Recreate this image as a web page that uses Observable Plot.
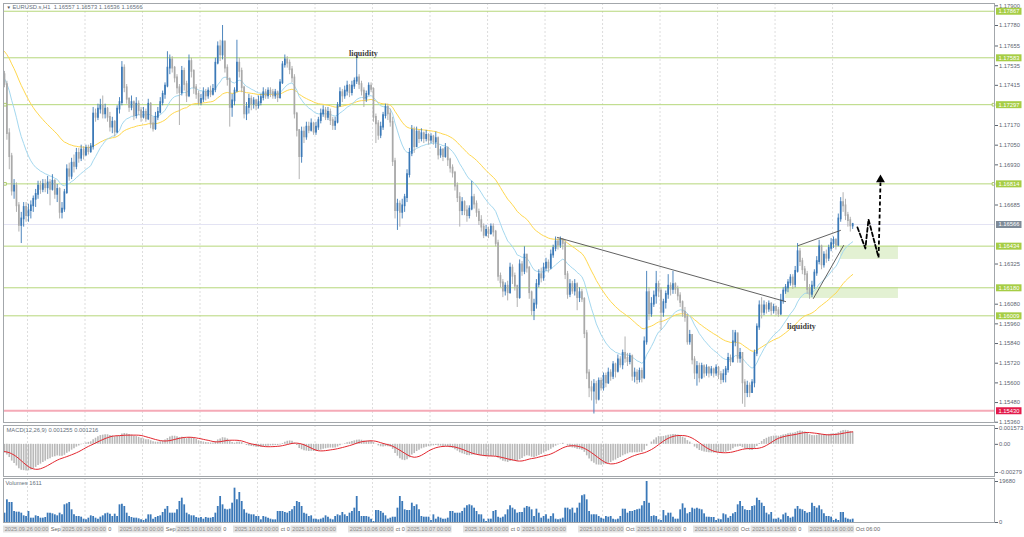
<!DOCTYPE html>
<html>
<head>
<meta charset="utf-8">
<script src="https://cdn.jsdelivr.net/npm/d3@7"></script>
<script src="https://cdn.jsdelivr.net/npm/@observablehq/plot@0.6"></script>
<style>
  body { margin: 0; background: #fff; }
  #wrap { position: relative; width: 1024px; height: 537px; overflow: hidden; background: #fff; }
  #wrap > div { position: absolute; left: 0; }
</style>
</head>
<body>
<div id="wrap">
  <div id="main" style="top:0px"></div>
  <div id="macd" style="top:423px"></div>
  <div id="vol" style="top:477px"></div>
  <div id="time" style="top:522px"></div>
</div>
<script>
// ---------------- DATA (prices in pips above 1.10000, 1 pip = 0.0001) ----------------
const firstOpen = 748;
const closes = [
742,712,698,677,680,668,656,660,667,662,
665,668,672,675,680,678,681,679,682,678,
683,675,678,664,666,676,690,686,694,692,
700,697,702,699,703,701,704,724,722,727,
729,724,727,722,716,719,713,727,731,752,
740,733,728,731,723,730,726,722,725,721,
730,718,715,722,725,731,736,741,752,757,
752,746,740,737,750,742,735,756,750,740,
736,731,733,737,735,738,736,739,755,765,
760,768,752,745,728,732,738,755,750,740,
724,728,733,730,732,729,731,734,737,735,
738,737,735,737,734,743,754,757,755,751,
746,724,714,698,713,710,716,714,718,713,
716,720,724,726,722,725,720,717,719,729,
737,735,738,741,737,741,744,746,742,738,
733,736,741,739,722,718,711,716,723,728,
724,719,695,665,669,664,668,673,687,700,
714,704,713,709,712,709,711,708,710,707,
709,699,702,698,703,696,691,688,680,673,
665,670,665,662,666,673,669,664,659,655,
650,653,651,655,652,645,625,621,616,619,
615,630,625,619,612,632,628,638,630,615,
604,608,620,626,624,630,633,630,638,642,
646,644,647,645,626,614,620,616,620,612,
615,611,590,566,557,555,559,550,561,557,
564,560,566,564,571,567,574,571,578,575,
573,576,564,566,562,567,563,585,615,602,
608,613,620,616,603,609,614,619,617,620,
617,613,609,603,600,585,589,574,566,570,
563,570,566,569,566,568,566,569,565,562,
565,568,575,573,585,590,575,578,560,554,
558,554,560,578,594,607,603,607,605,608,
604,606,604,602,610,616,618,621,624,620,
628,640,634,629,626,617,614,619,627,634,
643,632,638,636,642,645,647,644,660,670,
668,662,659,655.7,656.6
];
const highs = [
750,744,715,700,684,682,670,664,670,670,
669,671,674,678,683,683,684,684,686,684,
687,684,681,679,670,678,693,694,697,699,
703,703,705,704,705,705,706,728,727,730,
733,735,730,728,725,722,720,729,734,756,
754,742,734,735,732,734,732,728,728,727,
733,731,722,725,728,734,738,743,762,760,
759,753,748,742,753,752,744,760,758,751,
742,738,736,740,739,740,741,742,758,768,
769,778,768,754,746,736,740,769,758,752,
741,731,736,735,734,733,735,736,740,739,
740,740,739,739,738,745,756,760,759,757,
753,748,725,714,716,716,719,719,721,719,
719,722,727,729,728,728,727,722,722,731,
740,739,741,744,742,744,746,760,748,744,
740,738,743,743,740,724,720,719,725,730,
730,727,722,697,672,671,672,675,690,703,
717,716,716,714,715,713,714,712,712,711,
713,710,704,703,706,704,697,693,689,682,
676,673,671,668,668,683,675,671,666,662,
657,656,655,657,657,653,647,627,623,621,
622,633,632,627,619,635,634,643,637,631,
616,611,623,629,630,633,636,635,641,644,
649,648,649,648,647,628,623,622,623,621,
618,617,612,592,568,561,562,561,563,563,
566,566,569,568,573,572,577,576,580,588,
578,578,577,569,568,569,569,588,628,618,
612,616,628,622,618,611,616,626,621,628,
621,619,615,610,606,602,592,588,576,573,
572,572,571,571,570,570,569,571,570,567,
568,570,578,577,592,592,590,581,577,562,
561,560,562,580,596,610,612,610,609,610,
609,608,607,606,614,618,620,623,626,626,
631,645,642,636,631,628,620,622,629,637,
647,644,640,641,644,648,649,648,663,673,
676,672,664,661,657.3
];
const lows = [
740,708,690,674,672,664,652,645,655,658,
658,660,664,667,672,675,676,676,675,668,
677,672,670,660,660,664,675,683,684,688,
690,694,695,696,698,699,700,702,719,720,
724,721,721,719,713,712,710,712,724,729,
737,730,725,726,720,721,723,719,721,719,
720,715,713,714,720,724,729,733,740,748,
749,743,736,717,735,738,731,734,746,736,
733,729,729,731,732,733,734,735,737,754,
756,757,749,741,716,722,729,737,746,737,
721,720,724,726,727,726,727,729,732,733,
733,734,733,733,731,733,742,752,752,748,
743,721,710,684,694,706,708,712,713,711,
711,714,718,722,720,720,717,714,714,718,
728,731,733,735,734,735,739,742,739,735,
728,731,735,737,719,706,708,709,714,721,
720,716,692,660,653,655,660,664,670,685,
698,700,705,706,707,706,707,705,706,705,
703,696,697,695,697,692,688,685,677,670,
655,662,662,658,660,665,666,661,656,652,
648,649,648,650,649,643,622,618,612,613,
610,614,620,616,606,611,625,626,627,611,
601,598,605,618,621,622,628,627,629,636,
640,641,642,641,623,611,612,614,613,604,
609,609,587,562,551,549,541,547,549,555,
555,557,559,561,562,563,566,569,568,572,
570,571,561,560,559,560,560,562,583,598,
600,606,608,612,592,600,605,611,613,614,
614,610,606,600,597,583,583,571,562,558,
560,562,563,564,563,564,563,564,562,559,
560,560,566,570,572,582,572,572,547,545,
551,551,554,557,576,592,599,601,602,603,
601,602,601,600,601,608,614,615,619,617,
618,627,631,626,622,614,611,612,617,625,
632,629,630,633,634,640,642,641,643,658,
664,659,655,652,653.6
];
const volumes = [
4480,10880,9600,9600,5280,4960,4960,4480,3200,2880,
5280,2080,2080,3200,2880,2080,2080,2400,4480,4480,
4160,3680,3200,4480,3680,8480,8960,9600,6080,3680,
2880,2880,2560,1600,1280,2080,3200,2880,2080,1600,
2560,3200,4160,4480,4000,2880,4000,2880,8480,8800,
7680,4480,2880,2400,2080,2080,1760,1280,960,1600,
3680,3680,1600,2400,2880,3200,4800,6400,7680,4480,
4480,4480,6080,10080,11680,8480,4480,3680,3200,3200,
2400,2080,2400,1600,2400,2080,2080,2400,4480,7680,
12480,8480,6400,6080,6400,9280,16480,10880,14400,10080,
6080,4480,4000,3680,3680,2880,2880,1280,2880,2560,
2080,1600,1280,1280,5280,5280,5280,4800,4480,5280,
6080,7680,10080,9600,7680,4480,4000,2880,3200,1600,
1600,1280,1600,2080,3200,2560,1600,1280,2880,3680,
3200,4800,3680,2880,4480,
5280,6880,12480,5280,2880,2880,2880,2560,1600,480,
5760,5760,5280,4480,3200,1600,2080,2560,2560,6880,
12480,10080,6080,5760,5760,9280,7680,8480,6080,2880,
2560,2560,2560,960,3680,1600,2560,2080,1600,1600,
2080,5280,5280,4480,4480,4480,5280,6880,8000,8480,
8000,6880,5280,3680,3680,1600,480,1600,1600,5280,
5760,2560,2080,2560,3680,6080,8000,6880,6080,4480,
4800,4800,6880,7680,7360,6080,2880,6400,4480,2080,
2880,3680,1600,2880,4160,1600,1280,1600,2080,6880,
6880,6080,6880,4480,6880,9280,12800,13280,10880,5280,
3680,3680,3680,2880,2080,1600,2880,2560,2880,1600,
1280,1600,2880,6400,6400,4480,5280,5280,5760,6080,
6400,8000,10080,19680,9280,2880,3200,2880,1280,960,
5760,3200,4480,4480,2560,1600,1600,6080,8960,6880,
4160,4800,6880,6400,6880,6400,
6080,4160,2560,2560,2400,2400,960,1600,1280,4160,
3680,2080,2880,4160,4800,8480,10080,7680,6080,5760,
5760,7680,8000,11680,10560,9280,7680,4480,3680,4800,
1600,1600,2080,1280,3680,4480,2880,2080,2560,6400,
7680,6400,6080,5280,4480,4800,9280,7680,6880,8000,
6080,4160,2880,2880,2560,960,1600,960,4800,4800,
2080,1600,1280,1611
];
const levelPrices = [1.17867, 1.17583, 1.17297, 1.16814, 1.16434, 1.16180, 1.16009];
const supportLevel = 1.15430;
const lastPrice = 1.16566;
const anchorSquares = [1.17297, 1.16814];
const priceTicks = [1.179, 1.1778, 1.17655, 1.17535, 1.17415, 1.1717, 1.1705, 1.1693, 1.16685,
                    1.16325, 1.1608, 1.1596, 1.1584, 1.1572, 1.156, 1.1548, 1.1536];
const macdTicks = [0.001573, 0, -0.00279];
const macdTickLabels = ["0.001573", "0.00", "-0.00279"];
const volTicks = [19680, 0];
const dayLabels = ["2025.09.26 00:00","2025.09.29 00:00","2025.09.30 00:00","2025.10.01 00:00","2025.10.02 00:00",
  "2025.10.03 00:00","2025.10.06 00:00","2025.10.07 00:00","2025.10.08 00:00","2025.10.09 00:00",
  "2025.10.10 00:00","2025.10.13 00:00","2025.10.14 00:00","2025.10.15 00:00","2025.10.16 00:00"];
const dayTails = ["Sep","0","Sep","0","ct 0","","ct 0","","ct 0","","Oct","0","Oct","0","Oct 06:00"];
const maFastSeed = 1.1746, maSlowSeed = 1.1763;
const ema12Seed = 1.1745, ema26Seed = 1.1754, signalSeed = -0.0007;
// annotations (bar index, price)
const zones = [
  {x1: 348.9, x2: 373.1, y1: 1.16353, y2: 1.16434},
  {x1: 326.0, x2: 373.1, y1: 1.16115, y2: 1.16180}
];
const trendLines = [
  {g: "a", x: 230.8, y: 1.16487}, {g: "a", x: 326.0, y: 1.16096},
  {g: "b", x: 331.4, y: 1.16438}, {g: "b", x: 348.9, y: 1.16530},
  {g: "c", x: 337.6, y: 1.16115}, {g: "c", x: 350.2, y: 1.16438}
];
const zigzag = [
  {x: 356.0, y: 1.16548}, {x: 359.3, y: 1.16420}, {x: 360.6, y: 1.16597}, {x: 364.8, y: 1.16365}
];
const arrowUp = {x1: 364.8, y1: 1.16365, x2: 365.6, y2: 1.16822, headY: 1.16840};
const notes = [
  {x: 149.8, y: 1.17612, t: "liquidity"},
  {x: 332.6, y: 1.15947, t: "liquidity"}
];

// ---------------- BUILD ----------------
const P = v => 1.10 + v / 10000;
const bars = closes.map((c, i) => {
  const o = i === 0 ? firstOpen : closes[i - 1];
  const h = Math.max(highs[i], o, c), l = Math.min(lows[i], o, c);
  return {i, o: P(o), c: P(c), h: P(h), l: P(l), up: c >= o};
});
function ema(vals, period, seed) {
  const a = 2 / (period + 1); let e = seed;
  return vals.map(v => (e = e + a * (v - e)));
}
const cl = bars.map(d => d.c);
const maFast = ema(cl, 20, maFastSeed);
const maSlow = ema(cl, 50, maSlowSeed);
const e12 = ema(cl, 12, ema12Seed), e26 = ema(cl, 26, ema26Seed);
const macd = e12.map((v, i) => v - e26[i]);
const signal = macd.map((v, i) => {
  let s = 0; for (let k = i - 8; k <= i; k++) s += k >= 0 ? macd[k] : signalSeed; return s / 9;
});

const W = 1024, ML = 3, MR = 30;
const X0 = -0.417, X1 = 413.19;
const pxToIdx = px => X0 + (px - ML) * (X1 - X0) / (W - ML - MR);
const xOpt = {domain: [X0, X1], axis: null};
const gridIdx = d3.range(15).map(k => 9.6 + 24 * k);
const BLUE = "#3b79b7", GREY = "#a9a9a9";
const FONT = "'Liberation Sans', Arial, sans-serif";
const baseStyle = {fontFamily: FONT, fontSize: "5.8px", background: "transparent", color: "#5b6470", overflow: "visible"};
const FS = 5.8;
const gridMark = () => Plot.ruleX(gridIdx, {stroke: "#d4d4d4", strokeDasharray: "2,2", strokeWidth: 0.8});
const frameMark = () => Plot.frame({stroke: "#a3a7ab"});

const tags = [
  ...levelPrices.map(v => ({v, bg: "#a6cd45"})),
  {v: lastPrice, bg: "#7f8b98"},
  {v: supportLevel, bg: "#e31b4b"}
];
const bx1 = pxToIdx(996), bx2 = pxToIdx(1021.5), tx = pxToIdx(998);

const mainChart = Plot.plot({
  width: W, height: 423, marginLeft: ML, marginRight: MR, marginTop: 3, marginBottom: 1,
  x: xOpt, y: {domain: [1.153583, 1.179142], axis: null},
  color: {type: "identity"},
  style: baseStyle,
  marks: [
    gridMark(),
    Plot.rect(zones, {x1: "x1", x2: "x2", y1: "y1", y2: "y2", fill: "#e3f1d3"}),
    Plot.ruleY([lastPrice], {stroke: "#e3e3f3"}),
    Plot.ruleY(levelPrices, {stroke: "#b6d77b"}),
    Plot.ruleY([supportLevel], {stroke: "#f5aab7", strokeWidth: 2}),
    Plot.lineY(maSlow, {x: (d, i) => i, y: d => d, stroke: "#ffd84e", strokeWidth: 1}),
    Plot.lineY(maFast, {x: (d, i) => i, y: d => d, stroke: "#a4d8ef", strokeWidth: 1}),
    Plot.ruleX(bars, {x: "i", y1: "l", y2: "h", stroke: d => d.up ? BLUE : GREY, strokeWidth: 0.9}),
    Plot.ruleX(bars, {x: "i", y1: "o", y2: "c", stroke: d => d.up ? BLUE : GREY, strokeWidth: 1.7, strokeLinecap: "square"}),
    Plot.line(trendLines, {x: "x", y: "y", z: "g", stroke: "#4f4f4f", strokeWidth: 0.9}),
    Plot.line(zigzag, {x: "x", y: "y", stroke: "#000", strokeWidth: 1.8, strokeDasharray: "4,2.5"}),
    Plot.link([arrowUp], {x1: "x1", y1: "y1", x2: "x2", y2: "y2", stroke: "#000", strokeWidth: 1.8, strokeDasharray: "4,2.5"}),
    Plot.dot([arrowUp], {x: "x2", y: "headY", symbol: "triangle", r: 3.3, fill: "#000"}),
    Plot.text(notes, {x: "x", y: "y", text: "t", fontFamily: "'Liberation Serif', serif", fontSize: 8, fontWeight: "bold", fill: "#3c3c3c"}),
    Plot.dot(anchorSquares, {x: pxToIdx(4.5), y: d => d, symbol: "square", r: 1.5, stroke: "#9cc24a", fill: "white", strokeWidth: 0.8}),
    Plot.dot(anchorSquares, {x: pxToIdx(993), y: d => d, symbol: "square", r: 1.5, stroke: "#9cc24a", fill: "white", strokeWidth: 0.8}),
    frameMark(),
    Plot.axisY(priceTicks, {anchor: "right", tickSize: 3, tickPadding: 1.5, tickFormat: d3.format(".5f"), fontSize: FS, label: null}),
    Plot.ruleY(tags, {y: "v", x1: bx1, x2: bx2, stroke: "bg", strokeWidth: 7}),
    Plot.text(tags, {y: "v", x: tx, text: d => d.v.toFixed(5), textAnchor: "start", fill: "white", fontSize: FS}),
    Plot.text(["▼"], {frameAnchor: "top-left", dx: 3, dy: 4, lineAnchor: "middle", fontSize: 4.5, fill: "#555"}),
    Plot.text(["EURUSD.s,H1  1.16557 1.16573 1.16536 1.16566"], {frameAnchor: "top-left", dx: 9, dy: 4, lineAnchor: "middle", textAnchor: "start", fontSize: FS, fill: "#66707c"})
  ]
});
document.getElementById("main").append(mainChart);

const macdChart = Plot.plot({
  width: W, height: 54, marginLeft: ML, marginRight: MR, marginTop: 2, marginBottom: 1,
  x: xOpt, y: {domain: [-0.003187, 0.001870], axis: null},
  style: baseStyle,
  marks: [
    gridMark(),
    Plot.ruleX(macd, {x: (d, i) => i, y1: 0, y2: d => d, stroke: "#b9b9b9", strokeWidth: 1.6, clip: true}),
    Plot.lineY(signal, {x: (d, i) => i, y: d => d, stroke: "#e3262e", strokeWidth: 1, clip: true}),
    frameMark(),
    Plot.axisY(macdTicks, {anchor: "right", tickSize: 3, tickPadding: 1.5, tickFormat: d => macdTickLabels[macdTicks.indexOf(d)], fontSize: FS, label: null}),
    Plot.text(["MACD(12,26,9) 0.001255 0.001216"], {frameAnchor: "top-left", dx: 3, dy: 5, lineAnchor: "middle", textAnchor: "start", fontSize: FS, fill: "#66707c"})
  ]
});
document.getElementById("macd").append(macdChart);

const volChart = Plot.plot({
  width: W, height: 46, marginLeft: ML, marginRight: MR, marginTop: 1, marginBottom: 1,
  x: xOpt, y: {domain: [0, 21120], axis: null},
  style: baseStyle,
  marks: [
    gridMark(),
    Plot.ruleX(volumes, {x: (d, i) => i, y1: 0, y2: d => d, stroke: "#3a78b8", strokeWidth: 1.8}),
    frameMark(),
    Plot.axisY(volTicks, {anchor: "right", tickSize: 3, tickPadding: 1.5, tickFormat: d => String(d), fontSize: FS, label: null}),
    Plot.text(["Volumes 1611"], {frameAnchor: "top-left", dx: 2, dy: 5, lineAnchor: "middle", textAnchor: "start", fontSize: FS, fill: "#66707c"})
  ]
});
document.getElementById("vol").append(volChart);

const days = dayLabels.map((t, k) => ({t, tail: dayTails[k], i: k * 24}));
const boxW = 46 * (X1 - X0) / (W - ML - MR);
const timeChart = Plot.plot({
  width: W, height: 15, marginLeft: ML, marginRight: MR, marginTop: 0, marginBottom: 0,
  x: xOpt, y: {domain: [0, 15], range: [0, 15], axis: null},
  style: baseStyle,
  marks: [
    Plot.rect(days, {x1: d => d.i - 0.4, x2: d => d.i - 0.4 + boxW, y1: 3.5, y2: 10.5, fill: "#e2e2e2"}),
    Plot.text(days, {x: d => d.i - 0.4 + boxW / 2, y: 7, text: "t", fontSize: 5.6, fill: "#8d8d8d"}),
    Plot.text(days, {x: d => d.i - 0.4 + boxW + 0.5, y: 7, text: "tail", textAnchor: "start", fontSize: 5.6, fill: "#666"})
  ]
});
document.getElementById("time").append(timeChart);
</script>
</body>
</html>
